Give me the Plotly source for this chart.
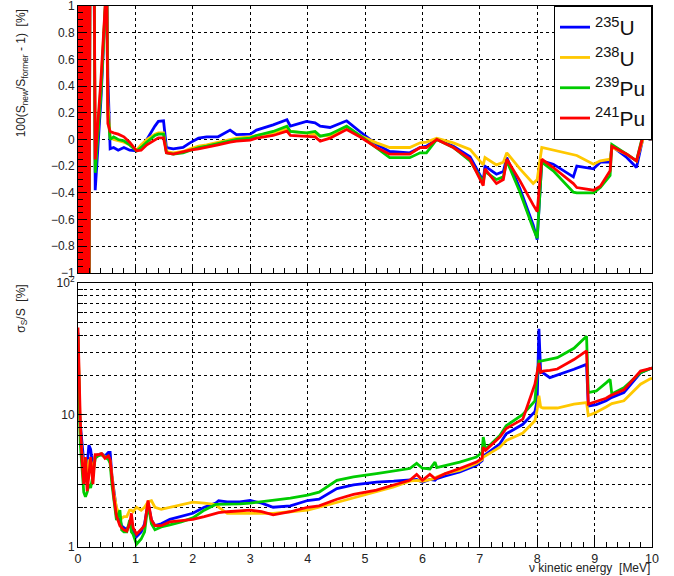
import plotly.graph_objects as go

# ---------------- data ----------------
series_names = ["<sup>235</sup>U", "<sup>238</sup>U", "<sup>239</sup>Pu", "<sup>241</sup>Pu"]
series_colors = ["#0000ff", "#ffc800", "#00cc00", "#ff0000"]

# top panel: 100*(S_new/S_former - 1) [%]
energy_top = [0.00, 0.03, 0.06, 0.09, 0.12, 0.15, 0.18, 0.22, 0.26, 0.30,
              0.40, 0.50, 0.52, 0.56, 0.62, 0.70, 0.80, 0.90, 1.02, 1.10,
              1.20, 1.34, 1.40, 1.49, 1.54, 1.66, 1.83, 1.95, 2.10, 2.24,
              2.44, 2.65, 2.76, 3.00, 3.11, 3.40, 3.64, 3.70, 3.98, 4.13,
              4.22, 4.39, 4.68, 4.91, 5.20, 5.43, 5.78, 5.96, 6.07, 6.25,
              6.54, 6.83, 7.06, 7.09, 7.29, 7.41, 7.47, 7.70, 7.93, 8.00,
              8.08, 8.28, 8.63, 8.69, 8.98, 9.10, 9.27, 9.30, 9.56, 9.73,
              9.85, 9.97, 10.0]

ratio_u235 = [-3, 3, -3, 3, -3, 3, -3, 3, 3, -0.38,
              0.3, 1.2, 0.47, -0.07, -0.06, -0.08, -0.06, -0.08, -0.085, -0.05,
              0.0, 0.10, 0.136, 0.14, -0.06, -0.07, -0.06, -0.025, 0.01, 0.02,
              0.02, 0.07, 0.037, 0.04, 0.07, 0.11, 0.148, 0.10, 0.136, 0.125,
              0.10, 0.09, 0.14, 0.06, -0.037, -0.09, -0.10, -0.06, -0.05, 0.0,
              -0.05, -0.13, -0.31, -0.20, -0.26, -0.24, -0.135, -0.37, -0.64, -0.75,
              -0.16, -0.185, -0.28, -0.20, -0.22, -0.17, -0.17, -0.05, -0.135, -0.21,
              0.025, 0.0, 0.0]
ratio_u238 = [-3, 3, -3, 3, -3, 3, -3, 3, 3, -0.2,
              0.4, 1.2, 0.27, 0.02, 0.0, -0.01, -0.02, -0.04, -0.08, -0.04,
              0.0, 0.04, 0.05, 0.05, -0.09, -0.10, -0.09, -0.07, -0.05, -0.04,
              -0.02, 0.0, 0.01, 0.02, 0.03, 0.05, 0.08, 0.06, 0.05, 0.04,
              0.025, 0.03, 0.086, 0.03, -0.025, -0.06, -0.06, -0.025, -0.02, 0.01,
              -0.025, -0.074, -0.19, -0.135, -0.19, -0.17, -0.10, -0.22, -0.33, -0.30,
              -0.06, -0.08, -0.11, -0.12, -0.185, -0.16, -0.148, -0.06, -0.11, -0.16,
              0.012, 0.0, 0.0]
ratio_pu239 = [-3, 3, -3, 3, -3, 0.15, -3, 3, 3, -0.25,
               0.35, 1.2, 0.2, 0.0, 0.02, 0.0, -0.01, -0.04, -0.085, -0.06,
               -0.02, 0.03, 0.04, 0.04, -0.10, -0.11, -0.10, -0.08, -0.06, -0.05,
               -0.03, -0.01, 0.0, 0.01, 0.03, 0.06, 0.10, 0.06, 0.05, 0.06,
               0.025, 0.04, 0.10, 0.03, -0.06, -0.136, -0.136, -0.10, -0.10, 0.0,
               -0.06, -0.16, -0.32, -0.24, -0.30, -0.28, -0.16, -0.395, -0.667, -0.74,
               -0.17, -0.235, -0.395, -0.40, -0.40, -0.36, -0.27, -0.037, -0.11, -0.16,
               0.05, 0.05, 0.04]
ratio_pu241 = [-3, 3, -3, 3, -3, 3, -3, 3, 3, -0.15,
               0.45, 1.2, 0.12, 0.06, 0.05, 0.04, 0.02, -0.02, -0.085, -0.08,
               -0.04, 0.0, 0.012, 0.012, -0.10, -0.11, -0.09, -0.08, -0.07, -0.06,
               -0.04, -0.02, -0.012, -0.005, 0.01, 0.03, 0.062, 0.03, 0.025, 0.02,
               -0.012, 0.01, 0.074, 0.02, -0.06, -0.11, -0.11, -0.06, -0.06, 0.0,
               -0.06, -0.148, -0.346, -0.22, -0.33, -0.30, -0.148, -0.31, -0.49, -0.54,
               -0.148, -0.21, -0.33, -0.36, -0.38, -0.35, -0.235, -0.05, -0.11, -0.16,
               0.037, 0.02, 0.02]

# bottom panel: sigma_S / S [%]
energy_bot = [0.00, 0.02, 0.04, 0.07, 0.10, 0.13, 0.16, 0.19, 0.22, 0.26,
              0.30, 0.35, 0.41, 0.47, 0.53, 0.56, 0.59, 0.63, 0.67, 0.73,
              0.76, 0.80, 0.85, 0.90, 0.93, 0.96, 1.02, 1.10, 1.16, 1.22,
              1.28, 1.34, 1.45, 1.60, 1.80, 2.00, 2.20, 2.40, 2.45, 2.60,
              2.82, 3.00, 3.20, 3.40, 3.70, 4.00, 4.20, 4.51, 4.80, 5.20,
              5.50, 5.78, 5.90, 6.00, 6.13, 6.22, 6.25, 6.40, 6.65, 6.94,
              7.04, 7.06, 7.10, 7.35, 7.46, 7.75, 7.96, 8.00, 8.03, 8.06,
              8.10, 8.22, 8.35, 8.64, 8.86, 8.89, 9.03, 9.20, 9.27, 9.30,
              9.51, 9.80, 9.97, 10.0]

unc_u235 = [42, 12, 8.5, 6.0, 4.0, 3.2, 4.2, 5.9, 5.5, 4.0,
            4.9, 5.0, 5.1, 4.9, 5.2, 5.2, 3.5, 2.6, 1.9, 1.6,
            1.45, 1.4, 1.35, 1.5, 1.45, 1.35, 1.2, 1.3, 1.5, 2.15,
            1.6, 1.45, 1.5, 1.62, 1.7, 1.8, 2.0, 2.15, 2.24, 2.2,
            2.2, 2.25, 2.15, 2.0, 2.05, 2.25, 2.3, 2.77, 2.95, 3.1,
            3.15, 3.2, 3.25, 3.1, 3.25, 3.2, 3.3, 3.45, 3.7, 4.16,
            4.5, 4.95, 5.0, 6.05, 7.2, 8.5, 10.6, 13, 45, 21,
            20.9, 19.2, 20, 22.2, 24.2, 11.7, 12.0, 12.8, 13.4, 13.6,
            14.8, 20.9, 22.5, 22.7]
unc_u238 = [40, 11, 7, 5.0, 3.5, 3.5, 3.5, 4.5, 4.5, 3.8,
            4.9, 5.0, 5.1, 4.8, 4.8, 4.5, 3.5, 2.5, 2.0, 1.7,
            1.65, 1.7, 1.7, 1.9, 1.9, 1.85, 2.0, 1.9, 2.0, 2.2,
            2.24, 2.0, 1.93, 2.0, 2.1, 2.19, 2.15, 2.1, 2.0, 1.8,
            1.8, 1.8, 1.8, 1.8, 1.85, 1.9, 2.0, 2.17, 2.35, 2.62,
            2.85, 3.15, 3.2, 3.15, 3.25, 3.3, 3.4, 3.6, 3.8, 4.28,
            4.6, 4.8, 4.9, 5.7, 6.4, 7.3, 9.05, 11, 14, 11.5,
            11.3, 11.3, 11.3, 12.1, 12.4, 9.9, 10.5, 11.5, 12, 12.2,
            12.8, 17.1, 18.8, 19.0]
unc_pu239 = [38, 10, 6, 4.0, 2.6, 2.4, 2.6, 3.0, 2.8, 3.5,
             4.7, 4.9, 5.0, 4.8, 4.6, 4.3, 3.0, 2.2, 1.6, 1.9,
             1.35, 1.3, 1.3, 1.6, 1.3, 1.25, 1.05, 1.15, 1.3, 2.1,
             1.5, 1.35, 1.42, 1.47, 1.55, 1.66, 1.9, 2.1, 2.1, 2.1,
             2.12, 2.15, 2.2, 2.25, 2.35, 2.47, 2.6, 3.2, 3.4, 3.6,
             3.75, 3.93, 4.3, 3.95, 3.9, 4.4, 4.0, 4.15, 4.4, 4.8,
             5.2, 6.8, 5.5, 7.0, 8.3, 10.1, 12.8, 20.3, 25.6, 25.6,
             25.8, 26.5, 27.2, 32, 39.5, 14.8, 15.2, 17.5, 18.6, 14.4,
             16.1, 20.9, 22.5, 22.7]
unc_pu241 = [46, 20, 9, 4.6, 3.0, 4.8, 2.65, 3.5, 4.8, 3.0,
             5.0, 5.0, 5.1, 4.7, 4.9, 4.6, 3.2, 2.3, 1.72, 1.45,
             1.4, 1.35, 1.32, 1.5, 1.8, 1.4, 1.25, 1.35, 1.45, 2.25,
             1.6, 1.45, 1.45, 1.55, 1.58, 1.62, 1.7, 1.8, 1.82, 1.85,
             1.87, 1.9, 1.85, 1.75, 1.85, 2.0, 2.05, 2.3, 2.5, 2.7,
             2.95, 3.2, 3.55, 3.2, 3.55, 3.3, 3.35, 3.6, 3.93, 4.4,
             4.7, 5.7, 5.4, 6.8, 7.9, 9.3, 17.1, 21, 24.8, 21,
             21.5, 21.8, 22.3, 26.3, 30.6, 12.1, 12.6, 13.4, 14, 14.2,
             15.5, 21.5, 22.7, 22.7]

x_ticks = list(range(0, 11))
top_y_ticks = [-1, -0.8, -0.6, -0.4, -0.2, 0, 0.2, 0.4, 0.6, 0.8, 1]
bot_y_ticks = [1, 10, 100]
bot_y_ticktext = ["1", "10", "10<sup>2</sup>"]
bot_y_minor = [2, 3, 4, 5, 6, 7, 8, 9, 20, 30, 40, 50, 60, 70, 80, 90]

ratios = [ratio_u235, ratio_u238, ratio_pu239, ratio_pu241]
uncs = [unc_u235, unc_u238, unc_pu239, unc_pu241]

# ---------------- figure ----------------
fig = go.Figure()
for name, col, r in zip(series_names, series_colors, ratios):
    fig.add_trace(go.Scatter(x=energy_top, y=r, mode="lines", name=name,
                             line=dict(color=col, width=2.8), xaxis="x", yaxis="y"))
for name, col, u in zip(series_names, series_colors, uncs):
    fig.add_trace(go.Scatter(x=energy_bot, y=u, mode="lines", name=name, showlegend=False,
                             line=dict(color=col, width=2.8), xaxis="x2", yaxis="y2"))

FONT = "Liberation Sans, Arial, sans-serif"
grid = dict(showgrid=True, gridcolor="#000000", griddash="dot", gridwidth=1)
common_x = dict(range=[0, 10], tickvals=x_ticks, ticks="inside", ticklen=9, tickcolor="black",
                showline=True, linecolor="black", linewidth=1, mirror=True, zeroline=False,
                automargin=False,
                minor=dict(dtick=0.2, tick0=0, ticks="inside", ticklen=5, tickcolor="black", showgrid=False),
                **grid)

fig.update_layout(
    width=674, height=576,
    margin=dict(l=78, r=22, t=6, b=29, autoexpand=False),
    paper_bgcolor="white", plot_bgcolor="white",
    font=dict(family=FONT, size=13, color="#222222"),
    showlegend=True,
    legend=dict(x=1.0, xanchor="right", y=1.0, yanchor="top",
                bgcolor="white", bordercolor="black", borderwidth=1,
                font=dict(family=FONT, size=21, color="#111111"),
                itemwidth=30, tracegroupgap=0),
    xaxis=dict(domain=[0, 1], anchor="y", showticklabels=False, **common_x),
    xaxis2=dict(domain=[0, 1], anchor="y2", showticklabels=True, matches="x",
                tickfont=dict(size=12.5), **common_x),
    yaxis=dict(domain=[0.5065, 1.0], anchor="x", range=[-1, 1], tickvals=top_y_ticks,
               ticks="inside", ticklen=9, tickcolor="black", showline=True, linecolor="black",
               linewidth=1, mirror=True, zeroline=False, tickfont=dict(size=12), automargin=False,
               ticklabeloverflow="allow",
               minor=dict(dtick=0.05, tick0=0, ticks="inside", ticklen=5, tickcolor="black", showgrid=False),
               **grid),
    yaxis2=dict(domain=[0, 0.488], anchor="x2", type="log", range=[0, 2],
                tickvals=bot_y_ticks, ticktext=bot_y_ticktext,
                ticks="inside", ticklen=9, tickcolor="black", showline=True, linecolor="black",
                linewidth=1, mirror=True, zeroline=False, tickfont=dict(size=12), automargin=False,
                ticklabeloverflow="allow",
                minor=dict(tickvals=bot_y_minor, ticks="inside", ticklen=5, tickcolor="black",
                           showgrid=True, gridcolor="#000000", griddash="dot", gridwidth=1),
                **grid),
)

# axis titles as annotations
fig.add_annotation(text="100(S<sub>new</sub>/S<sub>former</sub> - 1)  [%]",
                   xref="paper", yref="paper", x=-0.098, y=0.875, textangle=-90,
                   showarrow=False, font=dict(family=FONT, size=12, color="#222222"),
                   xanchor="center", yanchor="middle")
fig.add_annotation(text="σ<sub>S</sub>/S  [%]",
                   xref="paper", yref="paper", x=-0.098, y=0.44, textangle=-90,
                   showarrow=False, font=dict(family=FONT, size=12, color="#222222"),
                   xanchor="center", yanchor="middle")
fig.add_annotation(text="ν kinetic energy  [MeV]",
                   xref="paper", yref="paper", x=1.0, y=-0.039,
                   showarrow=False, font=dict(family=FONT, size=12, color="#222222"),
                   xanchor="right", yanchor="middle")

# remove the browser's default 8 px body margin so the figure sits at the page origin
fig.write_html("out.html", config={"displayModeBar": False},
               post_script="document.body.style.margin='0';")
